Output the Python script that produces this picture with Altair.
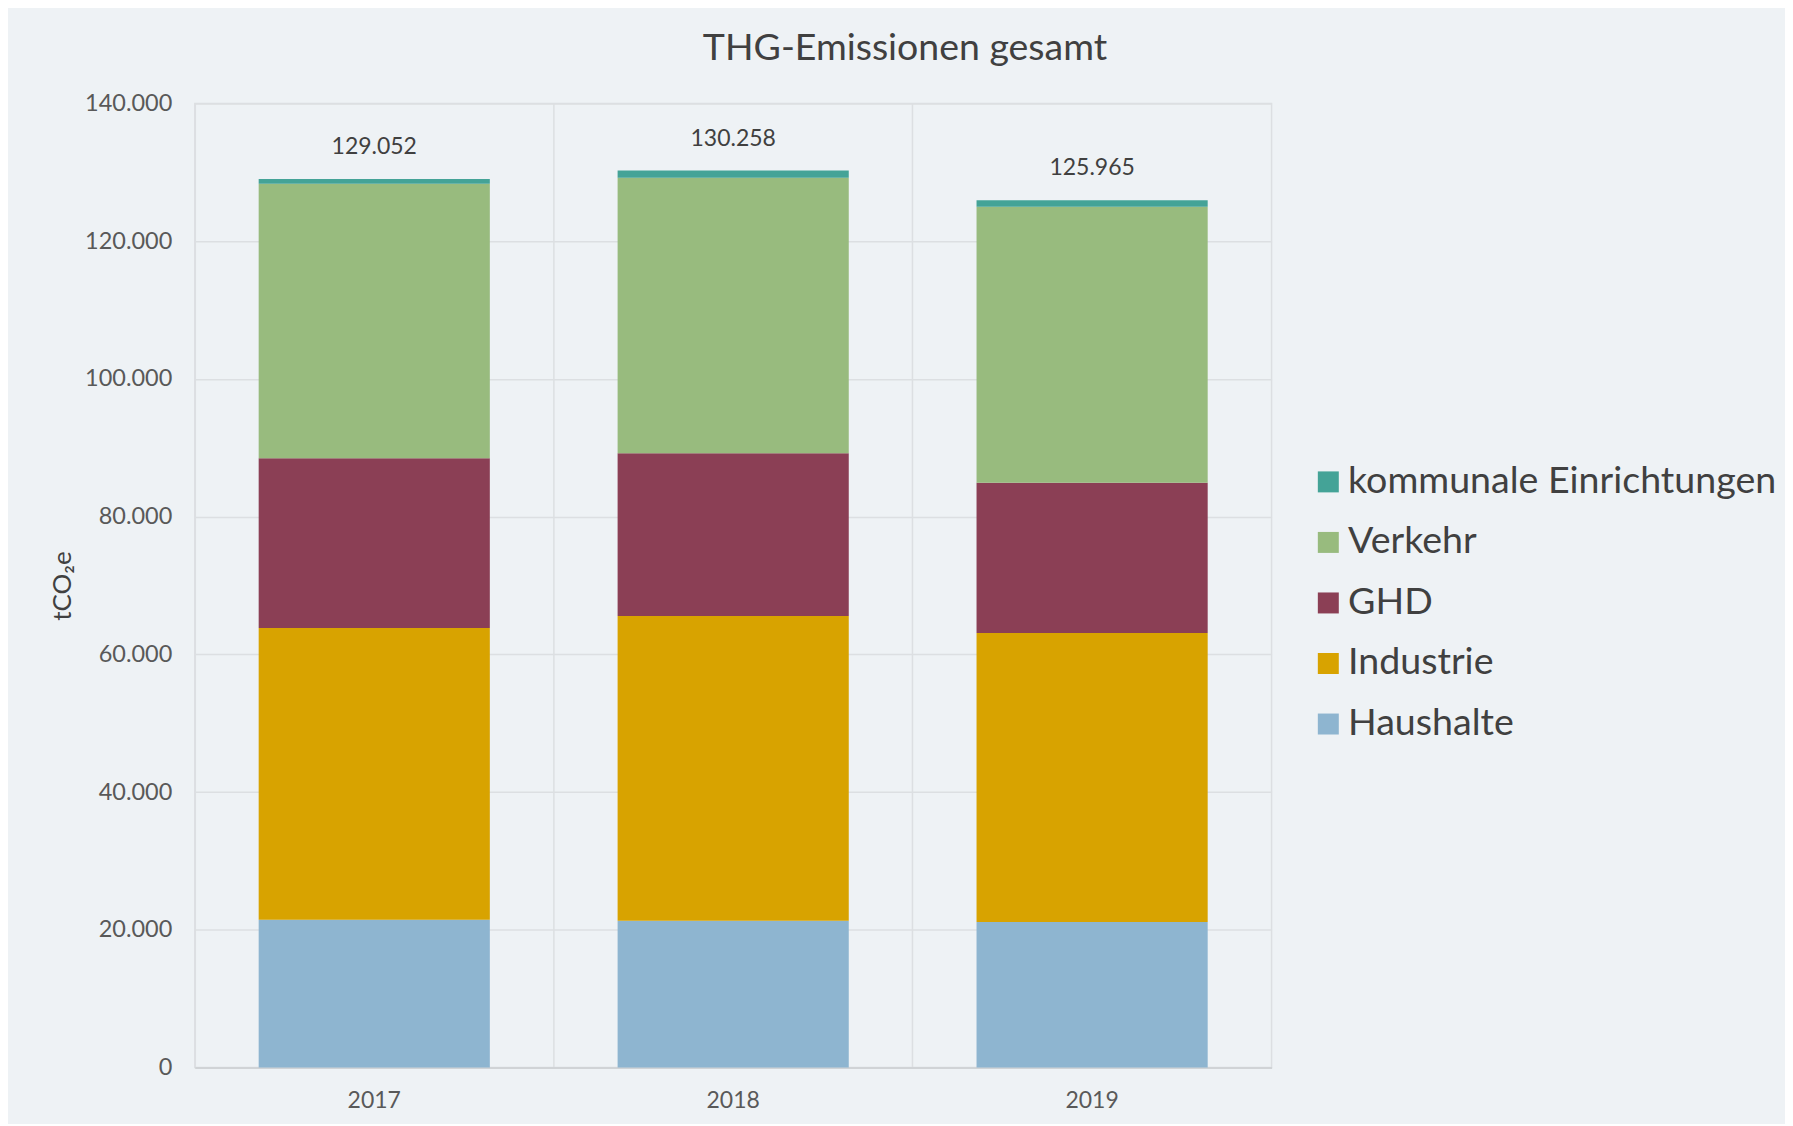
import altair as alt
import pandas as pd

years = ["2017", "2018", "2019"]
sectors = ["Haushalte", "Industrie", "GHD", "Verkehr", "kommunale Einrichtungen"]
haushalte = [21460, 21310, 21110]
industrie = [42380, 44270, 42000]
ghd = [24650, 23630, 21800]
verkehr = [39870, 40020, 40110]
kommunal = [692, 1028, 945]
totals = [129052, 130258, 125965]
colors = ["#8EB5D0", "#D8A300", "#8B3F55", "#98BB7E", "#44A397"]
y_ticks = [0, 20000, 40000, 60000, 80000, 100000, 120000, 140000]

series = [haushalte, industrie, ghd, verkehr, kommunal]
rows = []
for si, (s, vals) in enumerate(zip(sectors, series)):
    for y, v in zip(years, vals):
        rows.append({"Jahr": y, "Sektor": s, "Wert": v, "ord": si})
df = pd.DataFrame(rows)
tot = pd.DataFrame({"Jahr": years, "Summe": totals,
                    "Label": [f"{t:,}".replace(",", ".") for t in totals]})

legend_order = list(reversed(sectors))
legend_colors = list(reversed(colors))

x_enc = alt.X("Jahr:N", title=None,
              scale=alt.Scale(paddingInner=0, paddingOuter=0),
              axis=alt.Axis(labelAngle=0, labelFontSize=23, labelColor="#595959",
                            labelFont="Lato", labelPadding=22, ticks=False, tickSize=0,
                            domain=True, domainColor="#D0D3D6", domainWidth=2,
                            grid=True, gridColor="#DCDFE2", gridWidth=1.5,
                            bandPosition=0))

bars = alt.Chart(df).mark_bar(width={"band": 0.644}).encode(
    x=x_enc,
    y=alt.Y("Wert:Q", stack="zero",
            scale=alt.Scale(domain=[0, 140000], nice=False),
            axis=alt.Axis(values=y_ticks, title="tCO₂e", titleFontSize=26,
                          titleColor="#404040", titleFont="Lato", titleFontWeight="normal",
                          titlePadding=9,
                          labelFontSize=23.5, labelColor="#595959", labelFont="Lato",
                          labelPadding=23, ticks=False, tickSize=0, domain=False,
                          gridColor="#DCDFE2", gridWidth=1.5,
                          labelExpr="replace(format(datum.value, ','), ',', '.')")),
    color=alt.Color("Sektor:N",
                    scale=alt.Scale(domain=legend_order, range=legend_colors),
                    legend=alt.Legend(title=None, orient="none", legendX=1116, legendY=360,
                                      symbolType="square", symbolSize=441,
                                      symbolStrokeWidth=0, labelFontSize=37.6,
                                      labelFont="Lato", labelColor="#404040",
                                      labelOffset=1, rowPadding=21.6, padding=0,
                                      labelLimit=600)),
    order=alt.Order("ord:Q", sort="ascending"),
)

labels = alt.Chart(tot).mark_text(dy=-32, fontSize=23, font="Lato",
                                  color="#404040", baseline="middle").encode(
    x=alt.X("Jahr:N"),
    y=alt.Y("Summe:Q"),
    text="Label:N",
)

chart = alt.layer(bars, labels).properties(
    width=1078, height=965,
    padding={"left": 187, "top": 95, "right": 514, "bottom": 56},
    autosize=alt.AutoSizeParams(type="none"),
    title=alt.TitleParams("THG-Emissionen gesamt", fontSize=37.5, font="Lato",
                          fontWeight="normal", color="#404040", anchor="middle",
                          dx=172, dy=48, offset=42, baseline="alphabetic"),
).configure(background="#EEF2F5").configure_view(
    stroke="#DCDFE2", strokeWidth=1.5, fill="#EEF2F5"
)

chart.save("out.html", embed_options={"renderer": "svg", "actions": False})
